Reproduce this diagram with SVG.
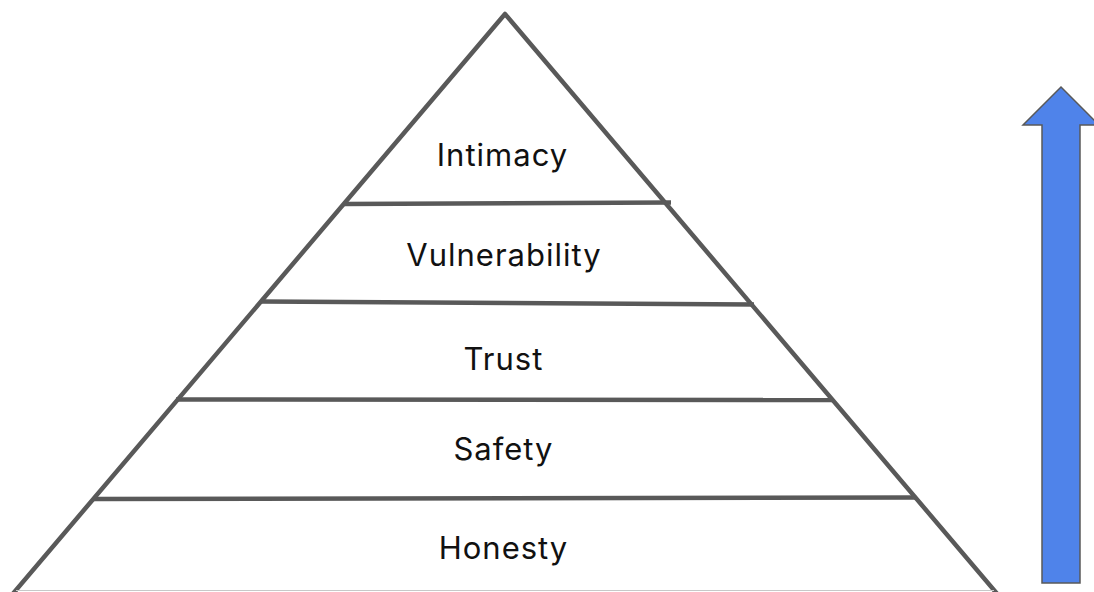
<svg xmlns="http://www.w3.org/2000/svg" width="1094" height="592" viewBox="0 0 1094 592">
  <style>
    .edge { fill: none; stroke: #595959; stroke-width: 4.5; stroke-linecap: butt; stroke-linejoin: round; }
    .label { font-family: "Inter", "Liberation Sans", sans-serif; font-size: 31px; letter-spacing: 1px; fill: #111111; text-anchor: middle; }
  </style>
  <rect width="1094" height="592" fill="#ffffff"/>

  <!-- pyramid outline -->
  <g id="pyramid-outline">
    <polyline class="edge" points="11,596 505,14 999,596"/>
    <line x1="16" y1="590.5" x2="994" y2="590.5" stroke="#c8c8c8" stroke-width="1"/>
  </g>

  <!-- tier dividers -->
  <g id="dividers">
    <line class="edge" x1="343" y1="204" x2="671" y2="202.5"/>
    <line class="edge" x1="261" y1="301.5" x2="754" y2="304.5"/>
    <line class="edge" x1="176" y1="399.5" x2="832" y2="400"/>
    <line class="edge" x1="93.5" y1="499" x2="915" y2="497.5"/>
  </g>

  <!-- tiers, top to bottom -->
  <g id="tier-intimacy"><text class="label" x="502.5" y="166">Intimacy</text></g>
  <g id="tier-vulnerability"><text class="label" x="504" y="266">Vulnerability</text></g>
  <g id="tier-trust"><text class="label" x="503.5" y="370">Trust</text></g>
  <g id="tier-safety"><text class="label" x="503.5" y="460">Safety</text></g>
  <g id="tier-honesty"><text class="label" x="503.5" y="559">Honesty</text></g>

  <!-- upward arrow -->
  <g id="up-arrow">
    <polygon points="1061,87 1099,125 1080,125 1080,583 1042,583 1042,125 1023,125" fill="#4f83ea" stroke="#595959" stroke-width="1.5" stroke-linejoin="miter"/>
  </g>
</svg>
